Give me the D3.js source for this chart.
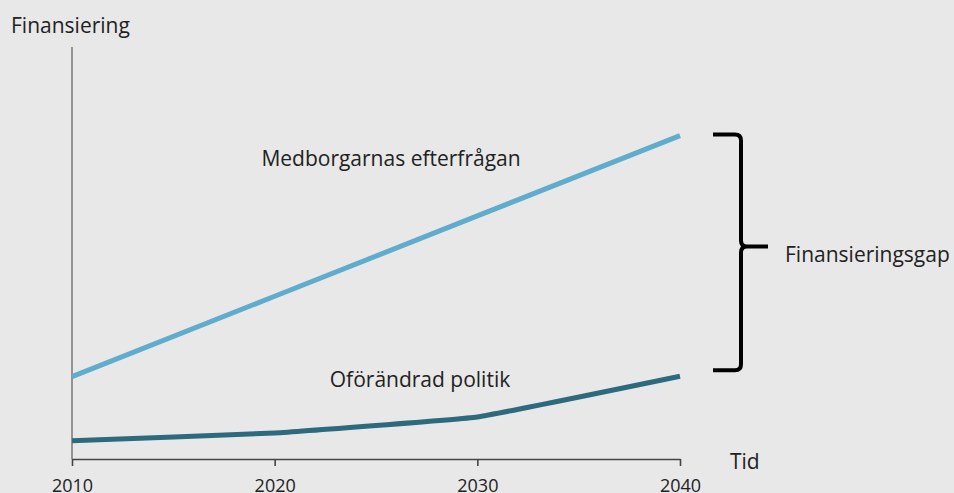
<!DOCTYPE html>
<html><head><meta charset="utf-8">
<script src="https://cdn.jsdelivr.net/npm/d3@7"></script>
<style>
html,body{margin:0;padding:0;background:#e8e8e8;}
svg{display:block;}
text{font-family:"Open Sans",sans-serif;fill:#222;}
</style></head>
<body>
<svg id="c" width="954" height="493"></svg>
<script>
const years = [2010, 2020, 2030, 2040];
const tickLabels = ["2010", "2020", "2030", "2040"];
const demand = [20, 39.5, 59, 78.5];      // Medborgarnas efterfrågan
const unchanged = [4.4, 6.3, 10.2, 20.1]; // Oförändrad politik
const yTitle = "Finansiering";
const xTitle = "Tid";
const demandLabel = "Medborgarnas efterfrågan";
const unchangedLabel = "Oförändrad politik";
const gapLabel = "Finansieringsgap";

(function(){
const svg = d3.select("#c");
svg.append("rect").attr("width",954).attr("height",493).attr("fill","#e8e8e8");

const x = d3.scaleLinear().domain([2010, 2040]).range([72, 680]);
const y = d3.scaleLinear().domain([0, 100]).range([459, 47]);

// axes
const xAxis = d3.axisBottom(x).tickValues(years).tickFormat((d,i)=>tickLabels[i]).tickSize(7).tickSizeOuter(0);
const gx = svg.append("g").attr("transform",`translate(0,${y(0)})`).call(xAxis);
gx.select(".domain").attr("stroke","#444").attr("stroke-width",1.6);
gx.selectAll(".tick line").attr("stroke","#444").attr("stroke-width",1.6);
gx.selectAll(".tick text").attr("font-size",18).attr("fill","#222").attr("y",14).attr("dy","1.05em").attr("font-family","Open Sans, sans-serif");

svg.append("line").attr("x1",x(2010)).attr("x2",x(2010)).attr("y1",y(0)).attr("y2",y(100))
  .attr("stroke","#666").attr("stroke-width",1.3);

// lines
const line = d3.line().x((d,i)=>x(years[i])).y(d=>y(d));
svg.append("path").datum(demand).attr("d",line).attr("fill","none")
  .attr("stroke","#5faccc").attr("stroke-width",5);
const curve = d3.line().x((d,i)=>x(years[i])).y(d=>y(d)).curve(d3.curveCardinal.tension(0.75));
svg.append("path").datum(unchanged).attr("d",curve).attr("fill","none")
  .attr("stroke","#2d6a7e").attr("stroke-width",5);

// labels
svg.append("text").attr("x",11).attr("y",33).attr("font-size",21).text(yTitle);
svg.append("text").attr("x",730).attr("y",469).attr("font-size",21).text(xTitle);
svg.append("text").attr("x",391).attr("y",166).attr("text-anchor","middle").attr("font-size",21).text(demandLabel);
svg.append("text").attr("x",420).attr("y",387).attr("text-anchor","middle").attr("font-size",21).text(unchangedLabel);

// bracket
const bTop = y(demand[3]) - 1, bBot = y(unchanged[3]) - 6;
const mid = (bTop + bBot) / 2 - 6;
const bx = 741, lx = 713, tipx = 768, r = 6;
const p = d3.path();
p.moveTo(lx, bTop);
p.lineTo(bx - r, bTop);
p.quadraticCurveTo(bx, bTop, bx, bTop + r);
p.lineTo(bx, mid - r);
p.quadraticCurveTo(bx, mid, bx + r, mid);
p.lineTo(tipx, mid);
p.moveTo(bx + r, mid);
p.quadraticCurveTo(bx, mid, bx, mid + r);
p.lineTo(bx, bBot - r);
p.quadraticCurveTo(bx, bBot, bx - r, bBot);
p.lineTo(lx, bBot);
svg.append("path").attr("d",p.toString()).attr("fill","none").attr("stroke","#000").attr("stroke-width",4);
svg.append("text").attr("x",785).attr("y",262).attr("font-size",21).text(gapLabel);
})();
</script>
</body></html>
